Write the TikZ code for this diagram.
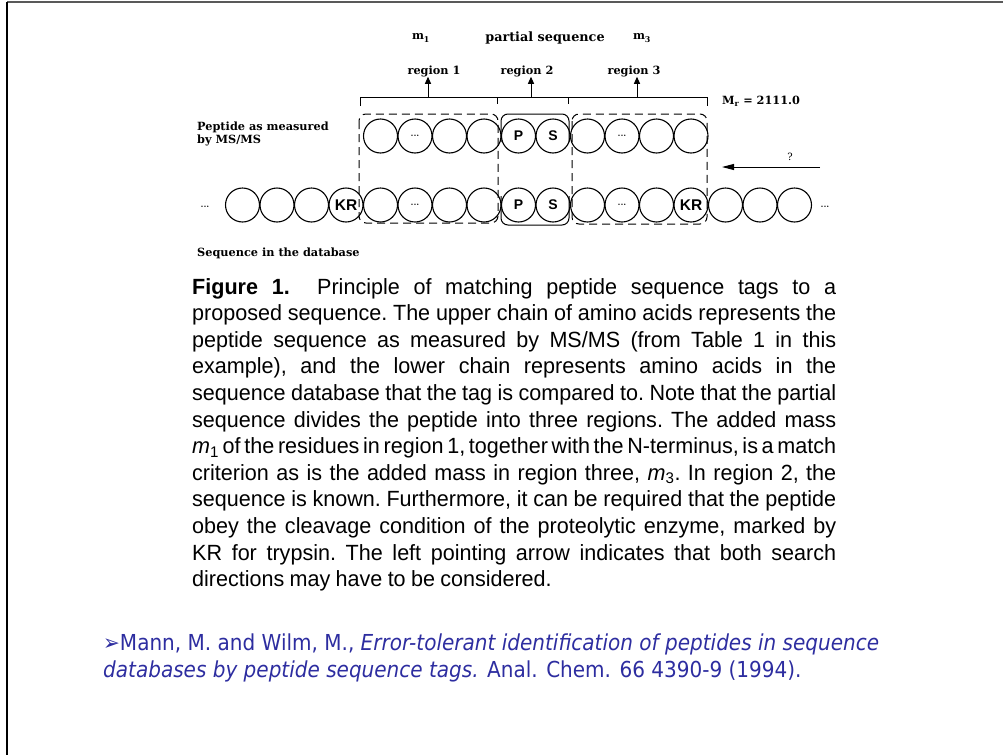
\documentclass[tikz,border=0pt]{standalone}
\usepackage{fontspec}
\setsansfont{Liberation Sans}
\newfontfamily\capfont[FakeStretch=0.98]{Liberation Sans}
\newfontfamily\figfont{DejaVu Serif}
\newfontfamily\citefont[FakeStretch=0.91]{DejaVu Sans}
\usetikzlibrary{arrows.meta}

\definecolor{citeblue}{RGB}{45,45,160}
\newcommand{\aadots}{{\fontsize{9}{9}\selectfont ...}}

\begin{document}
\begin{tikzpicture}[
  x=1pt, y=-1pt,
  every node/.style={inner sep=0pt},
  aacid/.style={draw, circle, line width=1.1pt, minimum size=34pt},
  aalbl/.style={font=\sffamily\bfseries\fontsize{14}{14}\selectfont},
  lbl/.style={font=\figfont\bfseries\fontsize{11.3}{13}\selectfont},
  regionbox/.style={line width=1pt, dash pattern=on 8pt off 5pt, rounded corners=7pt},
  uparrow/.style={-{Triangle[length=7pt,width=6pt]}, line width=1pt},
]
\useasboundingbox (0,0) rectangle (1003,755);

% ---- Slide frame ----
\draw[gray!70!black, line width=2pt] (7,2) -- (1003,2);
\draw[line width=2pt] (7,2) -- (7,755);

% ---- Region boxes ----
\draw[regionbox] (359,114) rectangle (498,223);
\draw[regionbox] (572,114) rectangle (707,224);
% region 2: solid caps, dashed sides shared with the other boxes
\draw[line width=1pt, rounded corners=7pt] (501,142) |- (569,114) -- (569,142);
\draw[line width=1pt, rounded corners=7pt] (501,196) |- (569,225) -- (569,196);

% ---- Upper chain: peptide as measured ----
\foreach \i in {0,...,9}
  \node[aacid] (u\i) at ({380.5+34.5*\i},136) {};

% ---- Lower chain: database sequence ----
\foreach \j in {0,...,16}
  \node[aacid] (l\j) at ({242.5+34.5*\j},205) {};

% ---- Residue labels ----
\foreach \n/\t in {u4/P, u5/S, l8/P, l9/S}
  \node[aalbl] at (\n) {\t};
\foreach \n in {l3, l13}
  \node[aalbl, font=\sffamily\bfseries\fontsize{15.5}{15}\selectfont] at (\n) {KR};
\foreach \n in {u1, u7, l5, l11}
  \node[font=\bfseries] at (\n) {\aadots};
\node[font=\bfseries] (ldots) at (205,207) {\aadots};
\node[font=\bfseries] (rdots) at (825,207) {\aadots};

% ---- Bracket over the upper chain ----
\draw[line width=1pt] (360,106) -- (360,97) -- (707,97) -- (707,106);
\draw[line width=1pt] (497,97) -- (497,104);
\draw[line width=1pt] (568,97) -- (568,104);
\coordinate (b1) at (428,97);
\coordinate (b2) at (531,97);
\coordinate (b3) at (637,97);

% ---- Labels ----
\node[lbl] (m1) at (421,38) {m\textsubscript{1}};
\node[lbl, font=\figfont\bfseries\fontsize{12.8}{13}\selectfont] (pseq) at (545,38) {partial sequence};
\node[lbl] (m3) at (642,38) {m\textsubscript{3}};

\node[lbl] (r1) at (434,71) {region 1};
\node[lbl] (r2) at (527,71) {region 2};
\node[lbl] (r3) at (634,71) {region 3};

\draw[uparrow] (b1) -- (b1 |- r1.south);
\draw[uparrow] (b2) -- (b2 |- r2.south);
\draw[uparrow] (b3) -- (b3 |- r3.south);

\node[lbl, anchor=west] (mr) at (722,101) {M\textsubscript{r} = 2111.0};

\node[lbl, anchor=west, align=left] (pep) at (197,134) {Peptide as measured\\by MS/MS};
\node[lbl, anchor=west] (db) at (197,253) {Sequence in the database};

% ---- Search direction arrow ----
\coordinate (qs) at (820,167);
\coordinate (qe) at (722,167);
\draw[-{Triangle[length=12pt,width=6pt]}, line width=1pt] (qs) -- (qe);
\node[font=\figfont\fontsize{10}{10}\selectfont] (qm) at (790,157) {?};

% ---- Caption ----
\node[anchor=north west, text width=644pt, align=justify,
      font=\capfont\fontsize{22}{26.6}\selectfont\frenchspacing] (cap) at (192,278) {%
\spaceskip=0.24em plus 0.35em minus 0.1em\relax
\textbf{Figure 1.}\ \ Principle of matching peptide sequence tags to a\linebreak
proposed sequence. The upper chain of amino acids represents the\linebreak
peptide sequence as measured by MS/MS (from Table 1 in this\linebreak
example), and the lower chain represents amino acids in the\linebreak
sequence database that the tag is compared to. Note that the partial\linebreak
sequence divides the peptide into three regions. The added mass\linebreak
\textit{m}\textsubscript{1} of the residues in region 1, together with the N-terminus, is a match\linebreak
criterion as is the added mass in region three, \textit{m}\textsubscript{3}. In region 2, the\linebreak
sequence is known. Furthermore, it can be required that the peptide\linebreak
obey the cleavage condition of the proteolytic enzyme, marked by\linebreak
KR for trypsin. The left pointing arrow indicates that both search\linebreak
directions may have to be considered.};

% ---- Reference ----
\node[anchor=west, text=citeblue, font=\citefont\fontsize{22}{24}\selectfont] (cite1) at (103,644)
  {➢Mann, M. and Wilm, M., \textit{Error-tolerant identification of peptides in sequence}};
\node[anchor=west, text=citeblue, font=\citefont\fontsize{22}{24}\selectfont] (cite2) at (103,671)
  {\textit{databases by peptide sequence tags.} Anal. Chem. 66 4390-9 (1994).};

\end{tikzpicture}
\end{document}
